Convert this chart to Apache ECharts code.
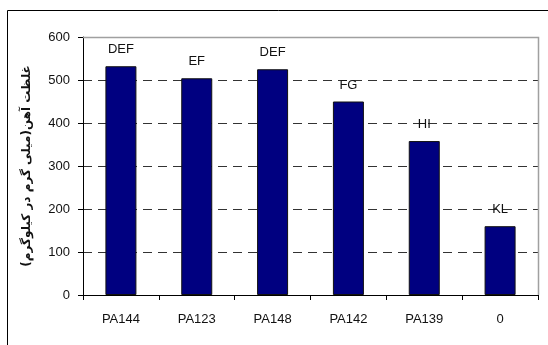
<!DOCTYPE html>
<html>
<head>
<meta charset="utf-8">
<script src="https://cdn.jsdelivr.net/npm/echarts@6/dist/echarts.min.js"></script>
<style>
html,body{margin:0;padding:0;background:#fff;}
#chart{width:548px;height:345px;}
</style>
</head>
<body>
<div id="chart"></div>
<script>
// Iron concentration per genotype
const categories = ['PA144', 'PA123', 'PA148', 'PA142', 'PA139', '0'];
const values = [532, 504, 525, 450, 358, 160];
const groupLetters = ['DEF', 'EF', 'DEF', 'FG', 'HI', 'KL'];
const yTicks = [0, 100, 200, 300, 400, 500, 600];

const chart = echarts.init(document.getElementById('chart'), null, {renderer: 'canvas'});
const font = 'Liberation Sans, Arial, sans-serif';

chart.setOption({
  animation: false,
  graphic: [
    {
      type: 'rect',
      shape: {x: 7.5, y: 10.5, width: 560, height: 360},
      style: {fill: 'none', stroke: '#000', lineWidth: 1},
      z: 0
    },
    {
      type: 'polyline',
      shape: {points: [[83, 37.5], [538.5, 37.5], [538.5, 295]]},
      style: {fill: 'none', stroke: '#a0a0a0', lineWidth: 1.5},
      z: 1
    }
  ],
  grid: {left: 83, top: 37, width: 455, height: 258, containLabel: false},
  xAxis: {
    type: 'category',
    data: categories,
    boundaryGap: true,
    axisLine: {lineStyle: {color: '#000', width: 1}},
    axisTick: {show: true, alignWithLabel: false, length: 5, lineStyle: {color: '#000'}},
    axisLabel: {color: '#111', fontFamily: font, fontSize: 13, margin: 18}
  },
  yAxis: {
    type: 'value',
    min: yTicks[0],
    max: yTicks[yTicks.length - 1],
    interval: 100,
    name: 'غلظت آهن(میلی گرم در کیلوگرم)',
    nameLocation: 'middle',
    nameGap: 50,
    nameRotate: 90,
    nameTextStyle: {color: '#111', fontFamily: 'DejaVu Sans, sans-serif', fontSize: 12, fontWeight: 'bold'},
    axisLine: {show: true, lineStyle: {color: '#000', width: 1}},
    axisTick: {show: true, inside: false, length: 5, lineStyle: {color: '#000'}},
    axisLabel: {color: '#111', fontFamily: font, fontSize: 13, margin: 13},
    splitLine: {
      show: true,
      lineStyle: {color: '#333', type: [9, 6], width: 1}
    }
  },
  series: [{
    type: 'bar',
    data: values,
    barWidth: 31,
    itemStyle: {color: '#000080', borderColor: '#111', borderWidth: 1},
    label: {
      show: true,
      position: 'top',
      distance: 10,
      color: '#111',
      fontFamily: font,
      fontSize: 13,
      formatter: p => groupLetters[p.dataIndex]
    },
    z: 3
  }]
});
</script>
</body>
</html>
